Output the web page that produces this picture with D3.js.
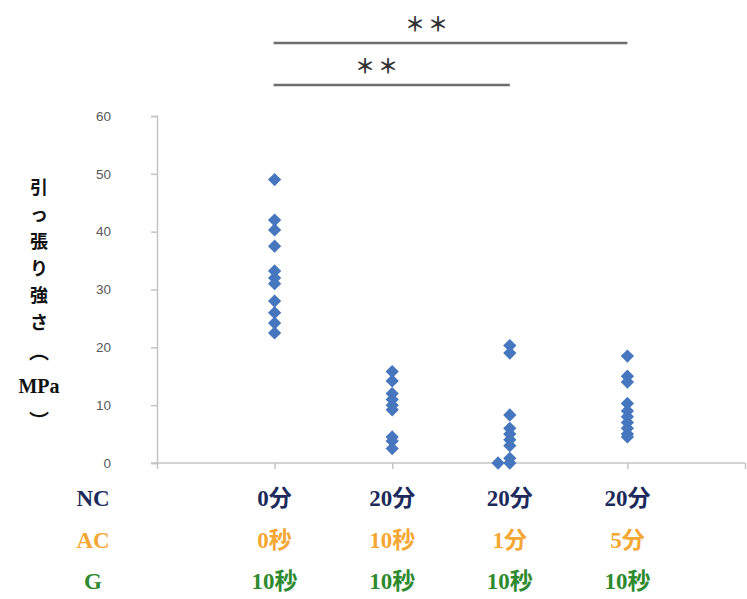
<!DOCTYPE html>
<html>
<head>
<meta charset="utf-8">
<script src="https://cdn.jsdelivr.net/npm/d3@7/dist/d3.min.js"></script>
<style>
  html, body { margin: 0; padding: 0; background: #fff; }
  svg { display: block; }
</style>
</head>
<body>
<svg id="chart" width="747" height="599"></svg>
<script>
// Tensile strength (MPa) for four treatment conditions
const rowNames = ["NC", "AC", "G"];
const ncLabels = ["0分", "20分", "20分", "20分"];
const acLabels = ["0秒", "10秒", "1分", "5分"];
const gLabels  = ["10秒", "10秒", "10秒", "10秒"];
const groupIndex = [1, 2, 3, 4];

const strength1 = [49, 42, 40.3, 37.5, 33.2, 32, 31, 28, 26, 24.2, 22.5];
const strength2 = [15.8, 14.2, 12, 11, 10, 9.2, 4.5, 3.8, 2.5];
const strength3 = [20.3, 19, 8.3, 6, 5, 4, 3, 0.8, 0, 0];
const xPos3     = [3, 3, 3, 3, 3, 3, 3, 3, 2.9, 3];
const strength4 = [18.5, 15, 14, 10.3, 9, 8, 7, 6, 5, 4.5];

const yTicks = [0, 10, 20, 30, 40, 50, 60];
const yTitleChars = ["引", "っ", "張", "り", "強", "さ", "︵", "MPa", "︶"];

// significance brackets: [from group, to group, label]
const sigFrom = [1, 1];
const sigTo = [4, 3];
const sigText = ["＊＊", "＊＊"];

const points = []
  .concat(strength1.map(v => ({x: 1, v})))
  .concat(strength2.map(v => ({x: 2, v})))
  .concat(strength3.map((v, i) => ({x: xPos3[i], v})))
  .concat(strength4.map(v => ({x: 4, v})));

const svg = d3.select("#chart");
const x = d3.scaleLinear().domain([0, 5]).range([157, 745]);
const y = d3.scaleLinear().domain([0, 60]).range([463, 116]);
const axisColor = "#c4c4c4";

// y axis
const yAxis = svg.append("g")
  .attr("transform", `translate(${x(0)},0)`)
  .call(d3.axisLeft(y).tickValues(yTicks).tickSize(6).tickPadding(40));
yAxis.select(".domain").attr("stroke", axisColor).attr("stroke-width", 1.5);
yAxis.selectAll(".tick line").attr("stroke", axisColor).attr("stroke-width", 1.5);
yAxis.selectAll(".tick text")
  .attr("fill", "#595959")
  .style("font-family", "'Liberation Sans', Arial, sans-serif")
  .style("font-size", "13.5px");

// x axis (category slots, ticks at each group)
const xAxis = svg.append("g")
  .attr("transform", `translate(0,${y(0)})`)
  .call(d3.axisBottom(x).tickValues([0, 1, 2, 3, 4, 5]).tickSize(6).tickFormat(""));
xAxis.select(".domain").attr("stroke", axisColor).attr("stroke-width", 1.5)
  .attr("d", `M${x(0) - 6},0H${x(5)}`);
xAxis.selectAll(".tick line").attr("stroke", axisColor).attr("stroke-width", 1.5);

// data points (diamond markers)
svg.append("g").selectAll("path")
  .data(points)
  .join("path")
  .attr("d", d3.symbol().type(d3.symbolSquare).size(88))
  .attr("transform", d => `translate(${x(d.x)},${y(d.v)}) rotate(45)`)
  .attr("fill", "#4677be");

// y axis title, stacked vertically
const titleG = svg.append("g");
const titleY = [186, 213, 240, 267, 294, 321, 350, 386, 420];
yTitleChars.forEach((c, i) => {
  const paren = c === "︵" || c === "︶";
  titleG.append("text")
    .attr("x", 39)
    .attr("y", titleY[i])
    .attr("text-anchor", "middle")
    .attr("dominant-baseline", "central")
    .attr("fill", "#111")
    .style("font-family", c === "MPa" ? "'Liberation Serif', serif" : "'Noto Sans CJK JP', sans-serif")
    .style("font-weight", "bold")
    .style("font-size", c === "MPa" ? "20px" : paren ? "20px" : "18px")
    .text(c);
});

// category label rows
const rowColors = ["#1c2b5c", "#f5a733", "#2e8a2e"];
const rowY = [498, 540, 581];
const rowLabels = [ncLabels, acLabels, gLabels];
const labelFont = "'Liberation Serif', 'Noto Sans CJK JP', serif";
rowNames.forEach((name, r) => {
  svg.append("text")
    .attr("x", 93).attr("y", rowY[r])
    .attr("text-anchor", "middle").attr("dominant-baseline", "central")
    .attr("fill", rowColors[r])
    .style("font-family", labelFont).style("font-weight", "bold").style("font-size", "23px")
    .text(name);
  svg.append("g").selectAll("text")
    .data(rowLabels[r])
    .join("text")
    .attr("x", (d, i) => x(groupIndex[i]))
    .attr("y", rowY[r])
    .attr("text-anchor", "middle").attr("dominant-baseline", "central")
    .attr("fill", rowColors[r])
    .style("font-family", labelFont).style("font-weight", "bold").style("font-size", "23px")
    .text(d => d);
});

// significance bars
const sigLineY = [43, 85];
sigFrom.forEach((f, i) => {
  svg.append("line")
    .attr("x1", x(f) - 1).attr("x2", x(sigTo[i]))
    .attr("y1", sigLineY[i]).attr("y2", sigLineY[i])
    .attr("stroke", "#6e6e6e").attr("stroke-width", 2.5);
  svg.append("text")
    .attr("x", i === 0 ? 428 : 378)
    .attr("y", sigLineY[i] - 20)
    .attr("text-anchor", "middle").attr("dominant-baseline", "central")
    .attr("fill", "#333")
    .style("font-family", "'Noto Sans CJK JP', sans-serif")
    .style("font-weight", "bold")
    .style("font-size", "20px")
    .style("letter-spacing", "3px")
    .text(sigText[i]);
});
</script>
</body>
</html>
